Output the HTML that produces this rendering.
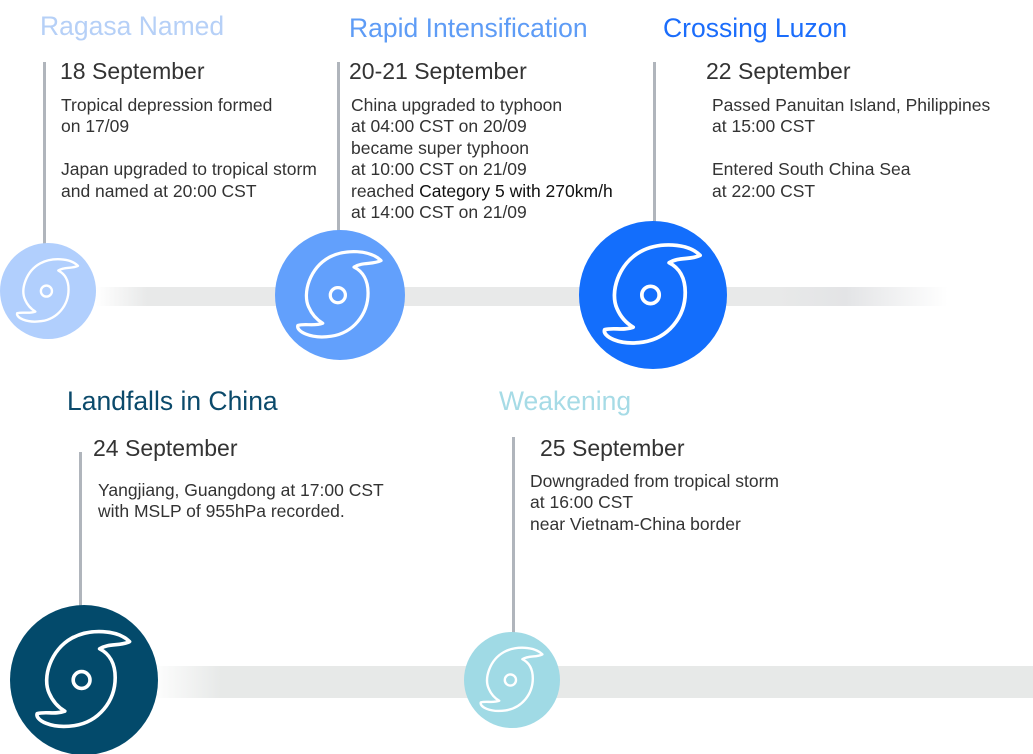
<!DOCTYPE html>
<html><head><meta charset="utf-8"><style>
body{margin:0;width:1033px;height:754px;background:#fff;position:relative;overflow:hidden;font-family:"Liberation Sans",Arial,sans-serif;}
.a{position:absolute;white-space:nowrap;}
.t{font-size:26.5px;line-height:30px;}
.d{font-size:23px;line-height:26px;color:#333;}
.b{font-size:17.5px;line-height:21.4px;color:#333;}
.v{position:absolute;width:3px;background:#b0b5bc;}
.bar{position:absolute;}
</style></head><body>
<div class="bar" style="left:96px;top:287px;width:852px;height:19px;background:linear-gradient(90deg,#fff 0%,#e8e9e9 6%,#e8e9e9 80%,#e3e4e6 88%,#fff 100%);"></div>
<div class="bar" style="left:150px;top:666px;width:883px;height:32px;background:linear-gradient(90deg,#fff 0%,#e7e9e8 8%,#e7e9e8 100%);"></div>

<div class="v" style="left:43px;top:62px;height:182px"></div>
<div class="v" style="left:337px;top:62px;height:170px"></div>
<div class="v" style="left:653px;top:62px;height:161px"></div>
<div class="v" style="left:79px;top:452px;height:155px"></div>
<div class="v" style="left:512px;top:437px;height:196px"></div>

<svg width="1033" height="754" style="position:absolute;left:0;top:0">
<defs>
<g id="h"><path d="M88,20 C78,10 55,9 40,17 C22,27 15,50 21,63 C24,70 29,75 34,78 C26,81 18,78 11,80 C9,85 22,93 42,90 C62,87 76,70 76,50 C76,38 71,30 63,26 C71,21 80,24 88,20 Z" fill="none" stroke="#fff" stroke-width="3" stroke-linejoin="round"/><circle cx="48" cy="52" r="7" fill="none" stroke="#fff" stroke-width="3"/></g>
</defs>
<circle cx="48" cy="291" r="48" fill="#b1cffd"/>
<g transform="translate(8.5,250) scale(0.79)"><use href="#h"/></g>
<circle cx="340" cy="295" r="65" fill="#62a0fc"/>
<g transform="translate(286,239) scale(1.08)"><use href="#h"/></g>
<circle cx="653" cy="295" r="74" fill="#136efc"/>
<g transform="translate(591,230.5) scale(1.24)"><use href="#h"/></g>
<ellipse cx="84" cy="680" rx="74" ry="75" fill="#034a6b"/>
<g transform="translate(24,617.6) scale(1.2)"><use href="#h"/></g>
<circle cx="512" cy="680" r="48" fill="#a0dae5"/>
<g transform="translate(472,638.4) scale(0.8)"><use href="#h"/></g>
</svg>

<div class="a t" style="left:40px;top:11px;color:#b6d0f7">Ragasa Named</div>
<div class="a t" style="left:349px;top:13px;color:#5e9cf6">Rapid Intensification</div>
<div class="a t" style="left:663px;top:13px;color:#1b6dfb">Crossing Luzon</div>
<div class="a t" style="left:67px;top:386px;color:#0b4a6b">Landfalls in China</div>
<div class="a t" style="left:499px;top:386px;color:#a6dbe6">Weakening</div>

<div class="a d" style="left:60px;top:58px">18 September</div>
<div class="a d" style="left:349px;top:58px">20-21 September</div>
<div class="a d" style="left:706px;top:58px">22 September</div>
<div class="a d" style="left:93px;top:435px">24 September</div>
<div class="a d" style="left:540px;top:435px">25 September</div>

<div class="a b" style="left:61px;top:95px">Tropical depression formed<br>on 17/09<br><br>Japan upgraded to tropical storm<br>and named at 20:00 CST</div>
<div class="a b" style="left:351px;top:95px">China upgraded to typhoon<br>at 04:00 CST on 20/09<br>became super typhoon<br>at 10:00 CST on 21/09<br>reached <span style="color:#111">Category 5 with 270km/h</span><br>at 14:00 CST on 21/09</div>
<div class="a b" style="left:712px;top:95px">Passed Panuitan Island, Philippines<br>at 15:00 CST<br><br>Entered South China Sea<br>at 22:00 CST</div>
<div class="a b" style="left:98px;top:480px">Yangjiang, Guangdong at 17:00 CST<br>with MSLP of 955hPa recorded.</div>
<div class="a b" style="left:530px;top:471px">Downgraded from tropical storm<br>at 16:00 CST<br>near Vietnam-China border</div>
</body></html>
